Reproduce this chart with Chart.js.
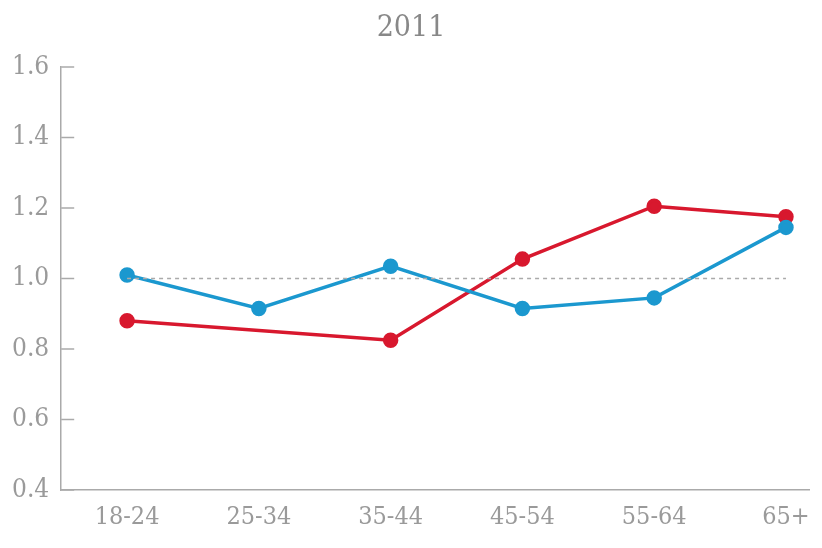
<!DOCTYPE html>
<html>
<head>
<meta charset="utf-8">
<script src="https://cdn.jsdelivr.net/npm/chart.js@4/dist/chart.umd.min.js"></script>
<style>
  html, body { margin: 0; padding: 0; background: #fff; }
  #wrap { width: 822px; height: 548px; }
</style>
</head>
<body>
<div id="wrap"><canvas id="chart"></canvas></div>
<script>
const categories = ['18-24', '25-34', '35-44', '45-54', '55-64', '65+'];
const blueValues = [1.01, 0.915, 1.035, 0.915, 0.945, 1.145];
const redValues = [0.88, null, 0.825, 1.055, 1.205, 1.175];
const baseline = [1.0, 1.0, 1.0, 1.0, 1.0, 1.0];
const yTicks = [0.4, 0.6, 0.8, 1.0, 1.2, 1.4, 1.6];

const grey = '#9a9a9a';
const font = "'DejaVu Serif Condensed', 'DejaVu Serif', serif";

const toPoints = vals => vals.map((v, i) => ({ x: i, y: v }));

// short tick marks pointing into the plot, like the original
const innerTicks = {
  id: 'innerTicks',
  afterDraw(chart) {
    const y = chart.scales.y;
    const c = chart.ctx;
    c.save();
    c.strokeStyle = '#aaa';
    c.lineWidth = 1.5;
    yTicks.forEach(t => {
      const py = y.getPixelForValue(t);
      c.beginPath();
      c.moveTo(y.right, py);
      c.lineTo(y.right + 13, py);
      c.stroke();
    });
    c.restore();
  }
};

new Chart(document.getElementById('chart'), {
  type: 'line',
  data: {
    datasets: [
      {
        data: toPoints(baseline),
        borderColor: '#aaa',
        borderWidth: 1.5,
        borderDash: [4, 4],
        pointRadius: 0
      },
      {
        data: toPoints(blueValues),
        borderColor: '#1b98cf',
        backgroundColor: '#1b98cf',
        borderWidth: 3.5,
        pointRadius: 6,
        pointHoverRadius: 6
      },
      {
        data: toPoints(redValues),
        borderColor: '#d8182e',
        backgroundColor: '#d8182e',
        borderWidth: 3.5,
        pointRadius: 6,
        pointHoverRadius: 6,
        spanGaps: true
      }
    ]
  },
  options: {
    responsive: true,
    maintainAspectRatio: false,
    animation: false,
    layout: { padding: { top: 10, right: 0, bottom: 4, left: 0 } },
    plugins: {
      legend: { display: false },
      tooltip: { enabled: false },
      title: {
        display: true,
        text: '2011',
        color: '#888',
        font: { family: font, size: 30, weight: 'normal' },
        padding: { top: 0, bottom: 21 }
      }
    },
    scales: {
      x: {
        type: 'linear',
        min: -0.5,
        max: 5.18,
        afterBuildTicks: s => { s.ticks = categories.map((_, i) => ({ value: i })); },
        grid: { display: false, drawTicks: false },
        border: { display: true, color: '#aaa', width: 1.5 },
        ticks: {
          color: grey,
          padding: 12,
          font: { family: font, size: 25 },
          callback: v => categories[v]
        }
      },
      y: {
        min: 0.4,
        max: 1.6,
        afterBuildTicks: s => { s.ticks = yTicks.map(v => ({ value: v })); },
        grid: { display: false, drawTicks: false },
        border: { display: true, color: '#aaa', width: 1.5 },
        ticks: {
          color: grey,
          padding: 12,
          font: { family: font, size: 26 },
          callback: v => v.toFixed(1)
        }
      }
    }
  },
  plugins: [innerTicks]
});
</script>
</body>
</html>
